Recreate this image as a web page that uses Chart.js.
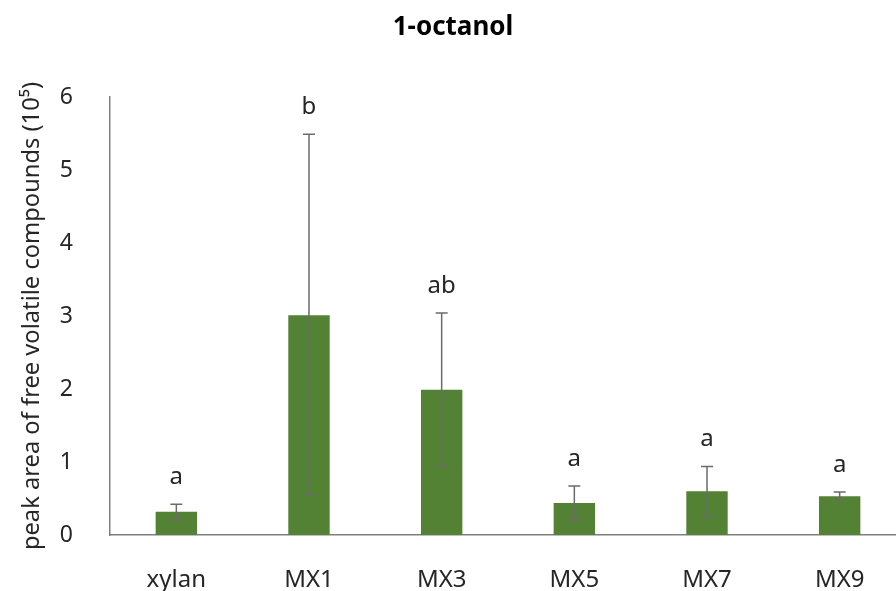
<!DOCTYPE html>
<html>
<head>
<meta charset="utf-8">
<script src="https://cdn.jsdelivr.net/npm/chart.js@4"></script>
<style>
  html, body { margin: 0; padding: 0; overflow: hidden; background: #fff; }
  #wrap { width: 906px; height: 620px; }
</style>
</head>
<body>
<div id="wrap"><canvas id="octanol" width="906" height="620"></canvas></div>
<script>
const categories = ['xylan', 'MX1', 'MX3', 'MX5', 'MX7', 'MX9'];
const means = [0.32, 3.01, 1.99, 0.44, 0.60, 0.53];
const errLow = [0.22, 0.54, 0.95, 0.21, 0.25, 0.48];
const errHigh = [0.42, 5.49, 3.04, 0.67, 0.94, 0.59];
const letters = ['a', 'b', 'ab', 'a', 'a', 'a'];
const yTicks = [0, 1, 2, 3, 4, 5, 6];

const FONT = "'Noto Sans', 'DejaVu Sans', sans-serif";

// error bars + significance letters
const errorBars = {
    id: 'errorBars',
    afterDatasetsDraw(chart) {
        const ctx = chart.ctx;
        const x = chart.scales.x;
        const y = chart.scales.y;
        ctx.save();
        ctx.strokeStyle = '#6b6b6b';
        ctx.lineWidth = 1.5;
        categories.forEach((c, i) => {
            const cx = x.getPixelForValue(i);
            const yl = y.getPixelForValue(errLow[i]);
            const yh = y.getPixelForValue(errHigh[i]);
            ctx.beginPath();
            ctx.moveTo(cx, yl);
            ctx.lineTo(cx, yh);
            ctx.moveTo(cx - 6, yl);
            ctx.lineTo(cx + 6, yl);
            ctx.moveTo(cx - 6, yh);
            ctx.lineTo(cx + 6, yh);
            ctx.stroke();

            ctx.fillStyle = '#262626';
            ctx.font = '24px ' + FONT;
            ctx.textAlign = 'center';
            ctx.textBaseline = 'middle';
            ctx.fillText(letters[i], cx, yh - 27);
        });
        ctx.restore();
    }
};

new Chart(document.getElementById('octanol'), {
    type: 'bar',
    data: {
        labels: categories,
        datasets: [{
            data: means,
            backgroundColor: '#548235',
            categoryPercentage: 1,
            barPercentage: 0.312
        }]
    },
    options: {
        responsive: false,
        animation: false,
        layout: { padding: 0 },
        plugins: {
            legend: { display: false },
            tooltip: { enabled: false },
            title: {
                display: true,
                text: '1-octanol',
                color: '#000',
                font: { family: FONT, size: 26, weight: 'bold', lineHeight: 1.2 },
                padding: { top: 12.4, bottom: 53.4 }
            }
        },
        scales: {
            x: {
                grid: { display: false, drawTicks: false },
                border: { color: '#7f7f7f', width: 1.5 },
                ticks: { color: '#262626', padding: 31, font: { family: FONT, size: 24 } },
                afterFit(s) { s.height = 85; }
            },
            y: {
                min: 0,
                max: 6,
                afterBuildTicks(s) { s.ticks = yTicks.map(v => ({ value: v })); },
                grid: { display: false, drawTicks: false },
                border: { color: '#7f7f7f', width: 1.5 },
                ticks: { color: '#262626', padding: 37, font: { family: FONT, size: 23 } },
                title: {
                    display: true,
                    text: 'peak area of free volatile compounds (10\u2075)',
                    color: '#262626',
                    font: { family: FONT, size: 23.7, lineHeight: 1.2 },
                    padding: { top: 17.8, bottom: 0 }
                },
                afterFit(s) { s.width = 110; }
            }
        }
    },
    plugins: [errorBars]
});
</script>
</body>
</html>
